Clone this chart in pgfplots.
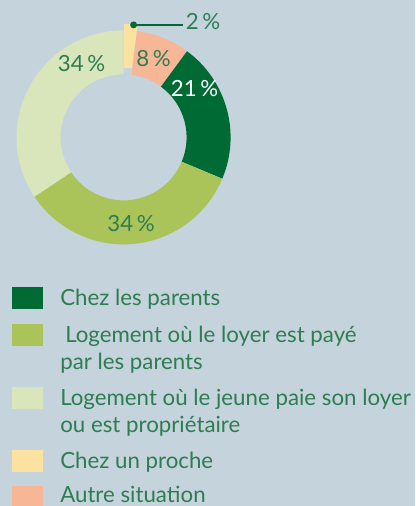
\documentclass[border=0pt]{standalone}
\usepackage{fontspec}
\usepackage{pgfplots}
\usepackage{pgfplotstable}
\pgfplotsset{compat=1.18}
\setmainfont{Lato}

\definecolor{bg}{RGB}{197,211,220}
\definecolor{cdark}{RGB}{0,106,52}
\definecolor{cmid}{RGB}{170,196,90}
\definecolor{cpale}{RGB}{217,229,187}
\definecolor{cyel}{RGB}{252,226,160}
\definecolor{csal}{RGB}{247,182,150}
\definecolor{ctext}{RGB}{46,125,80}

\newcommand\legfont{\fontsize{16.7pt}{20.25pt}\selectfont}

% parts of the donut, clockwise from the top (values in %)
\pgfplotstableread{
value col explode
2  cyel  0.06
8  csal  0
21 cdark 0
34 cmid  0
34 cpale 0
}\donutdata

\begin{document}
\begin{tikzpicture}[x=0.75pt,y=0.75pt]
\path[use as bounding box, fill=bg] (0,0) rectangle (415,506);
\begin{axis}[
    at={(-34.5,194.5)}, anchor=south west,
    x=80.25pt, y=80.25pt,
    xmin=-1.5, xmax=1.5, ymin=-1.5, ymax=1.5,
    axis lines=none, clip=false,
]
\def\cum{0}
\pgfplotsforeachungrouped \i in {0,...,4}{
    \pgfplotstablegetelem{\i}{value}\of\donutdata \let\dv\pgfplotsretval
    \pgfplotstablegetelem{\i}{col}\of\donutdata \let\dc\pgfplotsretval
    \pgfplotstablegetelem{\i}{explode}\of\donutdata \let\de\pgfplotsretval
    \pgfmathsetmacro\da{90-\cum/99*360}
    \pgfmathsetmacro\db{90-(\cum+\dv)/99*360}
    \pgfmathsetmacro\dm{(\da+\db)/2}
    \pgfmathsetmacro\ox{\de*cos(\dm)+cos(\da)}
    \pgfmathsetmacro\oy{\de*sin(\dm)+sin(\da)}
    \pgfmathsetmacro\ix{\de*cos(\dm)+0.5888*cos(\db)}
    \pgfmathsetmacro\iy{\de*sin(\dm)+0.5888*sin(\db)}
    \edef\temp{\noexpand\fill[\dc] (axis cs:\ox,\oy)
        arc[start angle=\da, end angle=\db, radius=80.25pt]
        -- (axis cs:\ix,\iy)
        arc[start angle=\db, end angle=\da, radius=47.25pt] -- cycle;}
    \temp
    \pgfmathsetmacro\cum{\cum+\dv}
}
% labels
\node[anchor=base, text=ctext, font=\legfont] at (axis cs:-0.393,0.615) {34\,\%};
\node[anchor=base, text=ctext, font=\legfont] at (axis cs:0.070,-0.883) {34\,\%};
\node[anchor=base, text=white, font=\legfont] at (axis cs:0.664,0.381) {21\,\%};
\node[anchor=base, text=ctext, font=\legfont] at (axis cs:0.280,0.659) {8\,\%};
\draw[cdark, line width=1.3pt] (axis cs:0.0935,1.051) -- (axis cs:0.551,1.051);
\fill[cdark] (axis cs:0.0935,1.051) circle[radius=2.6pt];
\node[anchor=base west, inner sep=0pt, text=ctext, font=\legfont] at (axis cs:0.579,1.005) {2\,\%};
\end{axis}

% legend
\begin{scope}[every node/.style={inner sep=0pt}]
\foreach \c/\t in {cdark/219, cmid/182, cpale/119, cyel/56, csal/20}
    \node[fill=\c, minimum width=23.25pt, minimum height=16.5pt, anchor=north west] at (12,\t) {};
\begin{scope}[every node/.append style={anchor=base west, text=ctext, font=\legfont}]
\node at (60,200) {Chez les parents};
\node at (65,163) {Logement où le loyer est payé};
\node at (60,136) {par les parents};
\node at (60,100) {Logement où le jeune paie son loyer};
\node at (60,73) {ou est propriétaire};
\node at (60,37) {Chez un proche};
\node at (60,3) {Autre situation};
\end{scope}
\end{scope}
\end{tikzpicture}
\end{document}
